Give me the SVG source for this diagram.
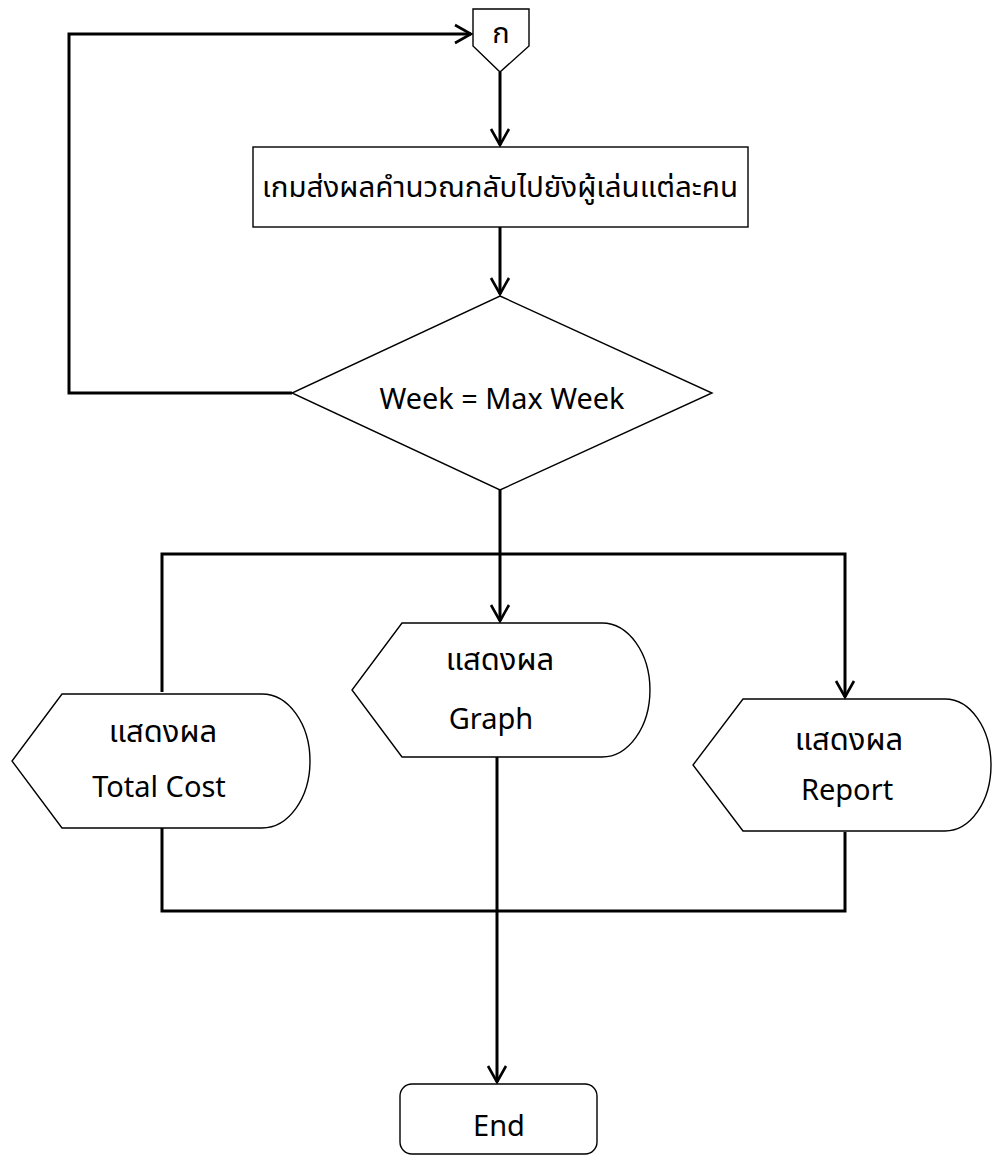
<svg xmlns="http://www.w3.org/2000/svg" width="993" height="1157" viewBox="0 0 993 1157">
  <style>
    .shape { fill: #ffffff; stroke: #000000; stroke-width: 1.4; stroke-linejoin: miter; }
    .flow { fill: none; stroke: #000000; stroke-width: 3; stroke-linejoin: miter; }
    .lbl { font-family: "Noto Sans", "Noto Sans Thai", "DejaVu Sans", sans-serif; font-size: 29px; fill: #000000; text-anchor: middle; }
    .th { font-size: 31px; }
  </style>
  <defs>
    <marker id="arrow" markerUnits="userSpaceOnUse" markerWidth="24" markerHeight="24" viewBox="-20 -12 24 24" refX="0" refY="0" orient="auto">
      <path d="M -16 -9 L 0 0 L -16 9" fill="none" stroke="#000000" stroke-width="2.6"/>
    </marker>
  </defs>

  <rect width="993" height="1157" fill="#ffffff"/>

  <!-- connectors -->
  <g id="connectors">
    <!-- off-page connector to process box -->
    <path class="flow" d="M 500 72 L 500 145" marker-end="url(#arrow)"/>
    <!-- process box to decision -->
    <path class="flow" d="M 500 227 L 500 294" marker-end="url(#arrow)"/>
    <!-- loop back when not finished -->
    <path class="flow" d="M 292 393 L 69 393 L 69 34 L 471 34" marker-end="url(#arrow)"/>
    <!-- decision down to branch bar -->
    <path class="flow" d="M 500 490 L 500 621" marker-end="url(#arrow)"/>
    <path class="flow" d="M 162 692 L 162 554 L 845 554 L 845 697" marker-end="url(#arrow)"/>
    <!-- outputs merge and go to End -->
    <path class="flow" d="M 162 828 L 162 911 L 845 911 L 845 832"/>
    <path class="flow" d="M 497 757 L 497 1082" marker-end="url(#arrow)"/>
  </g>

  <!-- off-page connector ก -->
  <g id="connector-ko">
    <path class="shape" d="M 473 9 L 529 9 L 529 46 L 500 72 L 473 46 Z"/>
    <text class="lbl" x="501" y="43" font-size="26">ก</text>
  </g>

  <!-- process -->
  <g id="send-results">
    <rect class="shape" x="253" y="147" width="495" height="80"/>
    <text class="lbl" x="500" y="197" font-size="32" textLength="476" lengthAdjust="spacingAndGlyphs">เกมส่งผลคำนวณกลับไปยังผู้เล่นแต่ละคน</text>
  </g>

  <!-- decision -->
  <g id="check-week">
    <path class="shape" d="M 500 296 L 712 393 L 500 490 L 292 393 Z"/>
    <text class="lbl" x="502" y="409" textLength="245" lengthAdjust="spacingAndGlyphs">Week = Max Week</text>
  </g>

  <!-- display: Total Cost -->
  <g id="show-total-cost">
    <path class="shape" d="M 62 694 L 262 694 A 48 67 0 0 1 262 828 L 62 828 L 12 761 Z"/>
    <text class="lbl th" x="163" y="742">แสดงผล</text>
    <text class="lbl" x="159" y="797">Total Cost</text>
  </g>

  <!-- display: Graph -->
  <g id="show-graph">
    <path class="shape" d="M 402 623 L 602 623 A 48 67 0 0 1 602 757 L 402 757 L 352 690 Z"/>
    <text class="lbl th" x="500" y="670">แสดงผล</text>
    <text class="lbl" x="491" y="729">Graph</text>
  </g>

  <!-- display: Report -->
  <g id="show-report">
    <path class="shape" d="M 743 699 L 945 699 A 46 66 0 0 1 945 831 L 743 831 L 693 765 Z"/>
    <text class="lbl th" x="849" y="750">แสดงผล</text>
    <text class="lbl" x="847" y="800">Report</text>
  </g>

  <!-- terminator -->
  <g id="end">
    <rect class="shape" x="400" y="1084" width="197" height="70" rx="12" ry="12"/>
    <text class="lbl" x="499" y="1136">End</text>
  </g>
</svg>
